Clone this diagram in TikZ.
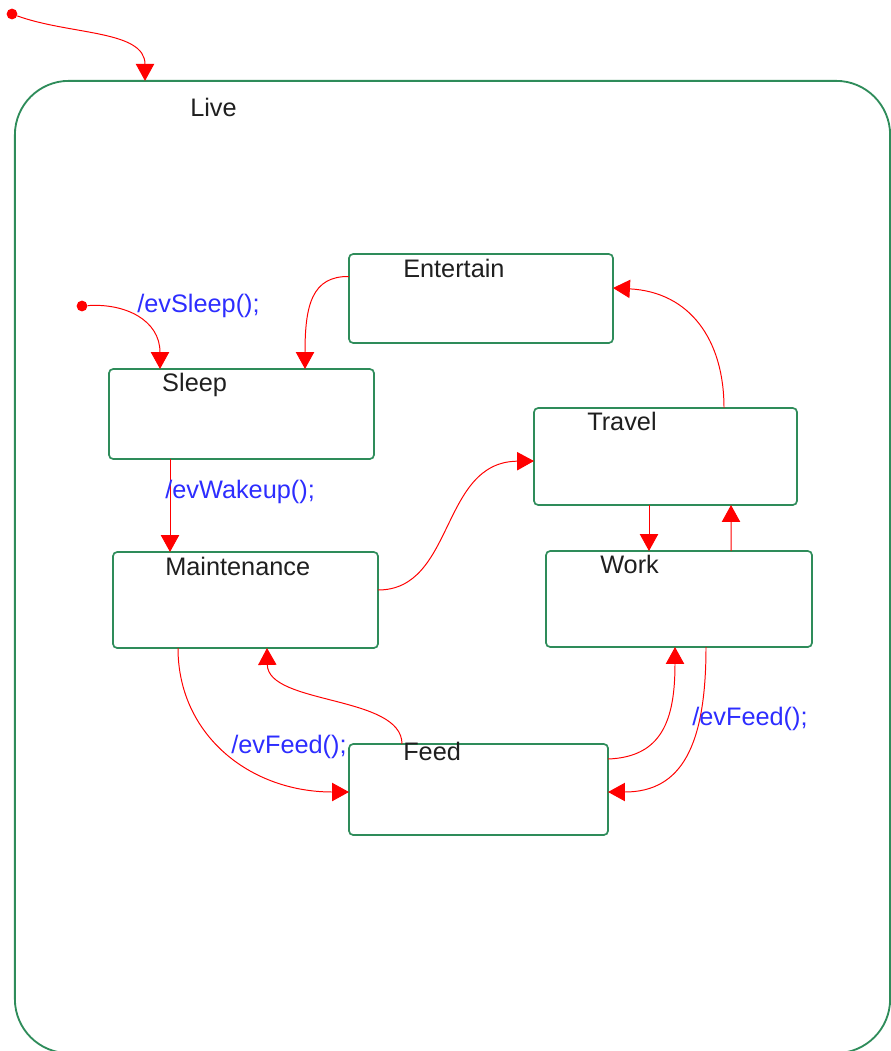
\documentclass[tikz,border=0pt]{standalone}
\usepackage{fontspec}
\setmainfont{Liberation Sans}
\usetikzlibrary{arrows.meta,positioning}
\definecolor{stgreen}{RGB}{46,140,90}
\definecolor{evblue}{RGB}{45,45,255}
\definecolor{trred}{RGB}{255,0,0}

\begin{document}
\begin{tikzpicture}[x=0.025cm, y=-0.025cm,
    box/.style={draw=stgreen, line width=1.2pt, rounded corners=3pt, inner sep=0pt, outer sep=0pt},
    ttl/.style={anchor=base west, inner sep=0pt, text=black!88, font=\fontsize{18}{20}\selectfont},
    evlabel/.style={anchor=base west, inner sep=0pt, text=evblue, font=\fontsize{18}{20}\selectfont},
    arrow/.style={draw=trred, line width=0.7pt, -{Triangle[length=12pt,width=13pt]}, fill=none},
    dot/.style={circle, fill=trred, inner sep=0pt, minimum size=0.27cm}
]
    \useasboundingbox (0,0) rectangle (891,1051);

    % outer state
    \node[box, line width=1.3pt, rounded corners=1.35cm, minimum width=21.875cm, minimum height=24.3cm] (live) at (452.5,567) {};
    \node[ttl] (livet) at (190,117) {Live};

    % states
    \node[box, minimum width=6.6cm, minimum height=2.225cm] (ent) at (481,298.5) {};
    \node[box, minimum width=6.625cm, minimum height=2.25cm] (sleep) at (241.5,414) {};
    \node[box, minimum width=6.625cm, minimum height=2.4cm] (maint) at (245.5,600) {};
    \node[box, minimum width=6.575cm, minimum height=2.425cm] (trav) at (665.5,456.5) {};
    \node[box, minimum width=6.65cm, minimum height=2.4cm] (work) at (679,599) {};
    \node[box, minimum width=6.475cm, minimum height=2.275cm] (feed) at (478.5,789.5) {};

    % state titles
    \node[ttl] (entt) at ([shift={(54,24)}]ent.north west) {Entertain};
    \node[ttl] (sleept) at ([shift={(53,23)}]sleep.north west) {Sleep};
    \node[ttl] (maintt) at ([shift={(52,24)}]maint.north west) {Maintenance};
    \node[ttl] (travt) at ([shift={(53,23)}]trav.north west) {Travel};
    \node[ttl] (workt) at ([shift={(54,23)}]work.north west) {Work};
    \node[ttl] (feedt) at ([shift={(54,17)}]feed.north west) {Feed};

    % initial states
    \node[dot] (init) at (12,14) {};
    \node[dot] (initsl) at (82,306) {};

    % transitions
    \draw[arrow] (init) .. controls (70,35) and (145,30) .. ([shift={(-307.5,0)}]live.north);
    \draw[arrow] (initsl) .. controls (125,303) and (160,320) .. ([shift={(-81.5,0)}]sleep.north);
    \draw[arrow] ([shift={(0,-22)}]ent.west) .. controls (312,276) and (305,305) .. ([shift={(63.5,0)}]sleep.north);
    \draw[arrow] ([shift={(-71.5,0)}]sleep.south) -- ([shift={(-75.5,0)}]maint.north);
    \draw[arrow] ([shift={(0,-10)}]maint.east) .. controls (455,590) and (440,462) .. ([shift={(0,4.5)}]trav.west);
    \draw[arrow] ([shift={(58.5,0)}]trav.north) .. controls (724,340) and (690,292) .. ([shift={(0,-10.5)}]ent.east);
    \draw[arrow] ([shift={(-16.5,0)}]trav.south) -- ([shift={(-30,0)}]work.north);
    \draw[arrow] ([shift={(52,0)}]work.north) -- ([shift={(65.5,0)}]trav.south);
    \draw[arrow] ([shift={(-67.5,0)}]maint.south) .. controls (178,735) and (250,792) .. ([shift={(0,2.5)}]feed.west);
    \draw[arrow] ([shift={(-76.5,0)}]feed.north) .. controls (402,695) and (268,705) .. ([shift={(21.5,0)}]maint.south);
    \draw[arrow] ([shift={(0,-30.5)}]feed.east) .. controls (662,757) and (675,720) .. ([shift={(-4,0)}]work.south);
    \draw[arrow] ([shift={(27,0)}]work.south) .. controls (706,745) and (682,792) .. ([shift={(0,2.5)}]feed.east);

    % events
    \node[evlabel] (evsl) at (137,312) {/evSleep();};
    \node[evlabel] (evwk) at (165,498) {/evWakeup();};
    \node[evlabel] (evfd1) at (231,753) {/evFeed();};
    \node[evlabel] (evfd2) at (692,725) {/evFeed();};
\end{tikzpicture}
\end{document}
